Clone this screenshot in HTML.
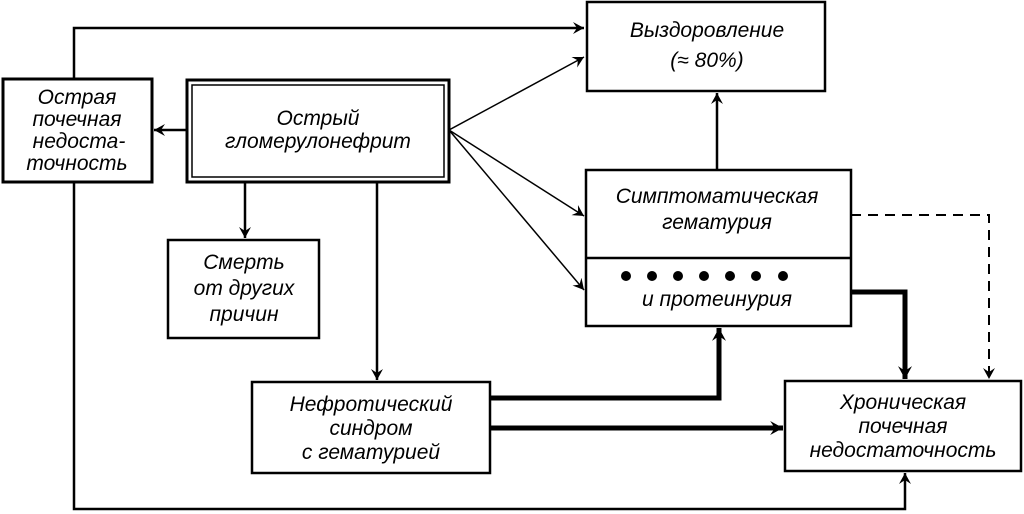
<!DOCTYPE html>
<html><head><meta charset="utf-8"><style>
html,body{margin:0;padding:0;background:#fff;}
svg{display:block;}
text{font-family:"Liberation Sans",sans-serif;font-style:italic;font-size:21px;fill:#000;text-anchor:middle;}
</style></head><body>
<svg width="1024" height="514" viewBox="0 0 1024 514" xmlns="http://www.w3.org/2000/svg">
<defs>
<marker id="a" viewBox="0 0 12 12" refX="11" refY="6" markerWidth="12" markerHeight="12" markerUnits="userSpaceOnUse" orient="auto">
<path d="M0,0 L11,6 L0,12 L4,6 Z" fill="#000"/></marker>
<marker id="b" viewBox="0 0 12 12" refX="11" refY="6" markerWidth="14" markerHeight="14" markerUnits="userSpaceOnUse" orient="auto">
<path d="M0,0 L11,6 L0,12 L4,6 Z" fill="#000"/></marker>
</defs>
<g fill="none" stroke="#000">
<!-- boxes -->
<rect x="3" y="79" width="149" height="103" stroke-width="3"/>
<rect x="187" y="80" width="262" height="102" stroke-width="3"/>
<rect x="192" y="85" width="252" height="92" stroke-width="1.5"/>
<rect x="587" y="2" width="238" height="89" stroke-width="2.5"/>
<rect x="586" y="170" width="265" height="156" stroke-width="2.5"/>
<line x1="586" y1="258" x2="851" y2="258" stroke-width="2.5"/>
<rect x="168" y="240" width="151" height="98" stroke-width="2.5"/>
<rect x="252" y="382" width="238" height="91" stroke-width="2.5"/>
<rect x="785" y="381" width="236" height="90" stroke-width="2.5"/>
<!-- connectors -->
<polyline points="74,79 74,28 584,28" stroke-width="2.5" marker-end="url(#a)"/>
<polyline points="74,182 74,509 905,509 905,473" stroke-width="2.5" marker-end="url(#a)"/>
<line x1="187" y1="130" x2="154" y2="130" stroke-width="2.5" marker-end="url(#a)"/>
<line x1="449" y1="130" x2="584" y2="57" stroke-width="1.5" marker-end="url(#a)"/>
<line x1="449" y1="130" x2="584" y2="216" stroke-width="1.5" marker-end="url(#a)"/>
<line x1="449" y1="130" x2="584" y2="290" stroke-width="1.5" marker-end="url(#a)"/>
<line x1="245" y1="182" x2="245" y2="238" stroke-width="2.5" marker-end="url(#a)"/>
<line x1="377" y1="182" x2="377" y2="380" stroke-width="2.5" marker-end="url(#a)"/>
<line x1="717" y1="170" x2="717" y2="93" stroke-width="2.5" marker-end="url(#a)"/>
<polyline points="851,215 989,215 989,379" stroke-width="2" stroke-dasharray="10,7" marker-end="url(#a)"/>
<polyline points="851,292 905,292 905,379" stroke-width="5" marker-end="url(#b)"/>
<polyline points="490,398 719,398 719,328" stroke-width="5" marker-end="url(#b)"/>
<line x1="490" y1="428" x2="783" y2="428" stroke-width="5" marker-end="url(#b)"/>
</g>
<g fill="#000">
<circle cx="626" cy="276" r="5"/><circle cx="652" cy="276" r="5"/><circle cx="678" cy="276" r="5"/><circle cx="704" cy="276" r="5"/><circle cx="730" cy="276" r="5"/><circle cx="756" cy="276" r="5"/><circle cx="783" cy="276" r="5"/>
</g>
<text x="77" y="104">Острая</text>
<text x="77" y="126">почечная</text>
<text x="79" y="148">недоста-</text>
<text x="77" y="170">точность</text>
<text x="318" y="125">Острый</text>
<text x="318" y="148">гломерулонефрит</text>
<text x="707" y="37">Выздоровление</text>
<text x="707" y="67">(≈ 80%)</text>
<text x="717" y="203">Симптоматическая</text>
<text x="717" y="229">гематурия</text>
<text x="717" y="306">и протеинурия</text>
<text x="244" y="269">Смерть</text>
<text x="244" y="295">от других</text>
<text x="244" y="321">причин</text>
<text x="371" y="411">Нефротический</text>
<text x="371" y="435">синдром</text>
<text x="371" y="459">с гематурией</text>
<text x="903" y="409">Хроническая</text>
<text x="903" y="433">почечная</text>
<text x="903" y="457">недостаточность</text>
</svg>
</body></html>
